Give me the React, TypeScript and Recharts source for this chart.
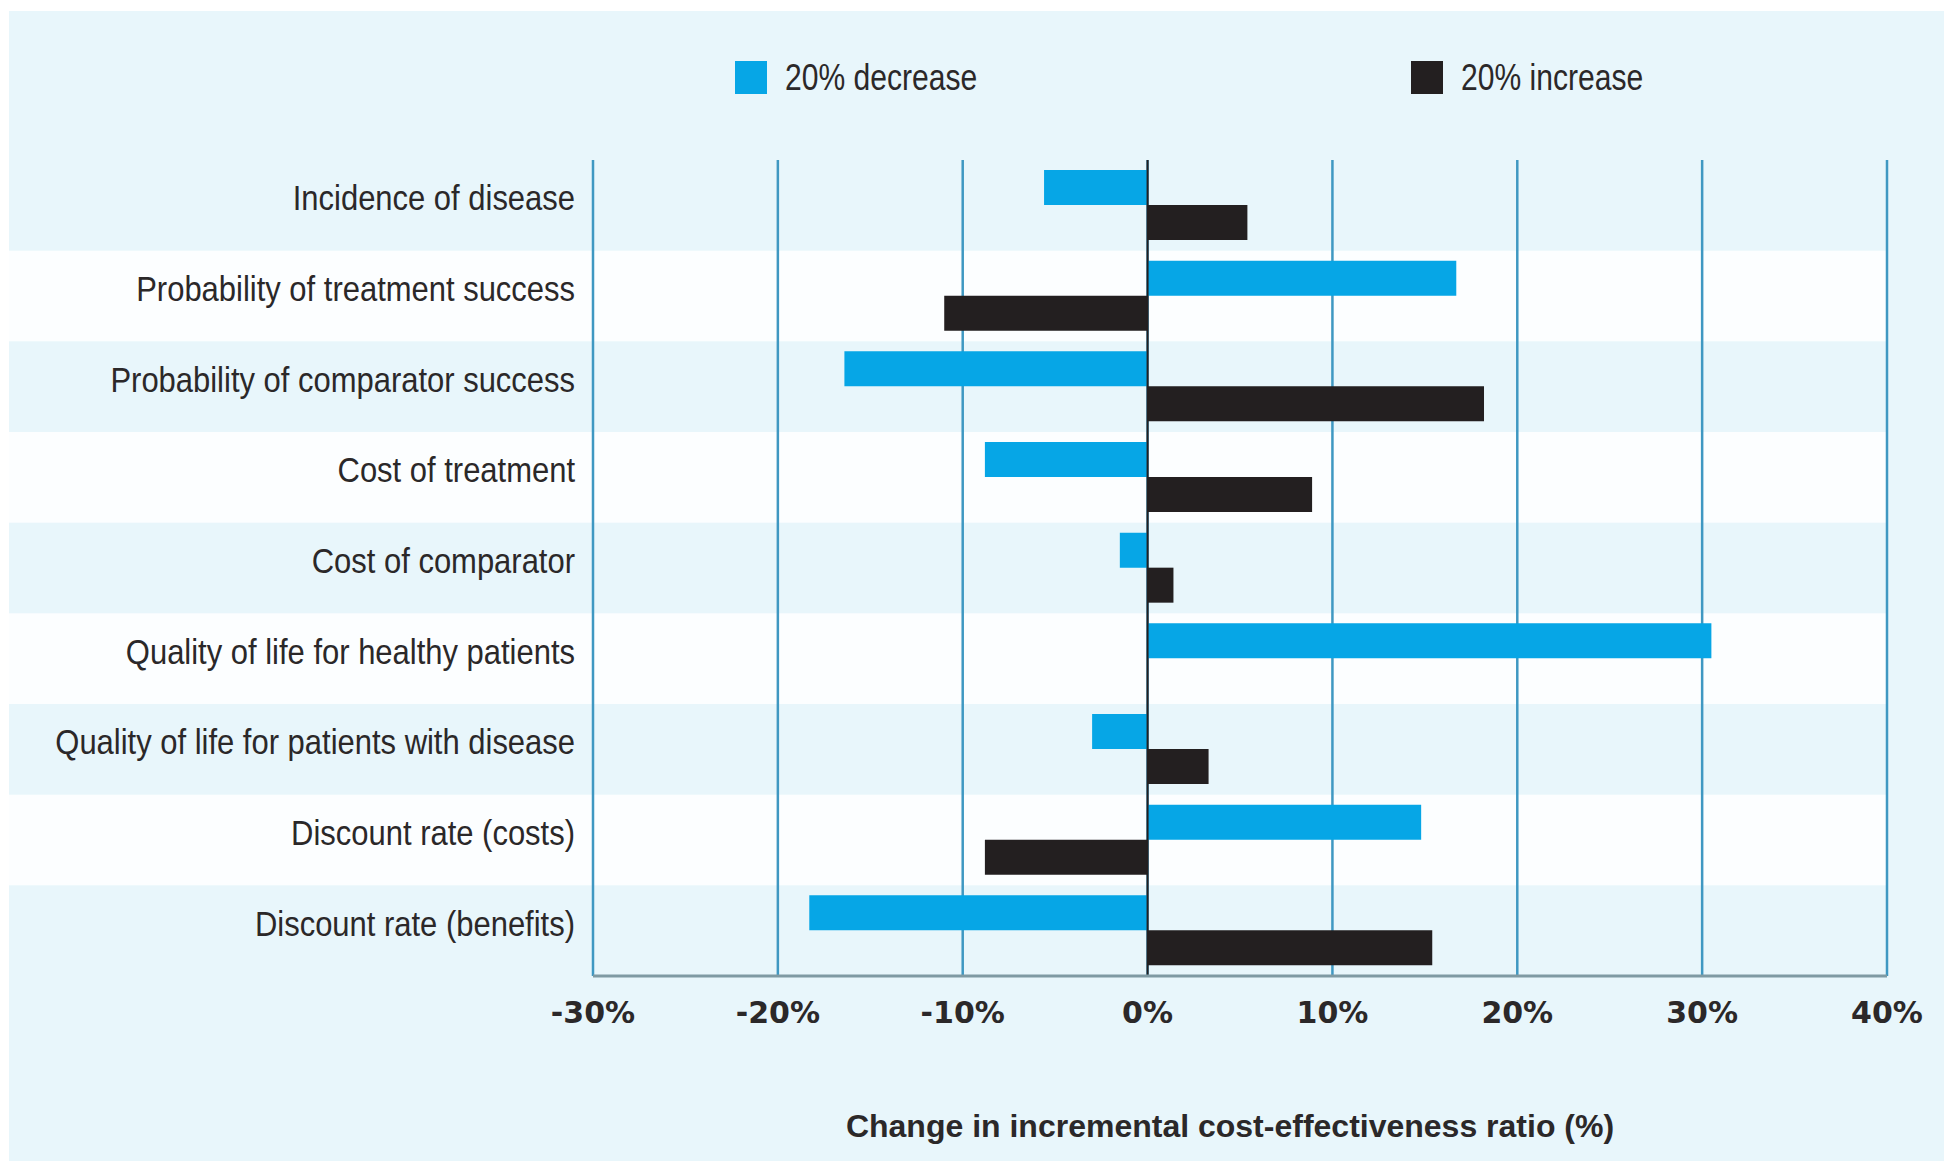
import { BarChart, Bar, XAxis, YAxis, CartesianGrid, ReferenceArea, ReferenceLine, Legend } from "recharts";

const categories = [
  "Incidence of disease",
  "Probability of treatment success",
  "Probability of comparator success",
  "Cost of treatment",
  "Cost of comparator",
  "Quality of life for healthy patients",
  "Quality of life for patients with disease",
  "Discount rate (costs)",
  "Discount rate (benefits)",
];
const decrease = [-5.6, 16.7, -16.4, -8.8, -1.5, 30.5, -3.0, 14.8, -18.3];
const increase = [5.4, -11.0, 18.2, 8.9, 1.4, 0, 3.3, -8.8, 15.4];
const xTicks = [-30, -20, -10, 0, 10, 20, 30, 40];

const data = categories.map((name, i) => ({ name, decrease: decrease[i], increase: increase[i] }));

const SANS = "'Liberation Sans', Arial, sans-serif";
const TEXT = "#2b2829";
const BLUE = "#06a6e6";
const BLACK = "#231f20";
const BAND_LEFT = 9;
const LEGEND_LEFT = [735, 1411];

const WhiteBand = (p: any) => (
  <rect x={BAND_LEFT} y={p.y} width={p.x + p.width - BAND_LEFT} height={p.height} fill="#fcfeff" />
);

// category labels are set in a condensed face: squeeze Liberation Sans horizontally
const CategoryTick = (p: any) => (
  <g transform={`translate(${p.x},${p.y})`}>
    <text transform="scale(0.885,1)" textAnchor="end" dy={5} fontFamily={SANS} fontSize={35} fill={TEXT}>
      {p.payload.value}
    </text>
  </g>
);

const renderLegend = (props: any) => {
  const items = props.payload || [];
  return (
    <div style={{ position: "relative", width: 1944, height: 36 }}>
      {items.map((entry: any, i: number) => (
        <div
          key={entry.value}
          style={{ position: "absolute", left: LEGEND_LEFT[i], top: 0, display: "flex", alignItems: "center", height: 33 }}
        >
          <span style={{ display: "inline-block", width: 32, height: 33, background: entry.color, marginRight: 18 }} />
          <span
            style={{
              fontFamily: SANS,
              fontSize: 36,
              lineHeight: "36px",
              color: TEXT,
              whiteSpace: "nowrap",
              display: "inline-block",
              transform: "scaleX(0.835)",
              transformOrigin: "left center",
            }}
          >
            {entry.value}
          </span>
        </div>
      ))}
    </div>
  );
};

export default function App() {
  return (
    <div style={{ position: "absolute", left: 0, top: 0, width: 1944, height: 1161, background: "#ffffff" }}>
      <div style={{ position: "absolute", left: BAND_LEFT, top: 11, right: 0, bottom: 0, background: "#e8f6fb" }} />
      <div style={{ position: "absolute", left: 0, top: 0 }}>
        <BarChart
          width={1944}
          height={1161}
          data={data}
          layout="vertical"
          barSize={35}
          barGap={0}
          margin={{ top: 160, right: 57, bottom: 55, left: 0 }}
        >
          {categories
            .filter((_, i) => i % 2 === 1)
            .map((c) => (
              <ReferenceArea key={c} y1={c} y2={c} shape={WhiteBand} zIndex={-200} />
            ))}
          <CartesianGrid horizontal={false} stroke="#3f98c2" strokeWidth={2.5} />
          <XAxis
            type="number"
            domain={[-30, 40]}
            ticks={xTicks}
            tickFormatter={(v) => `${v}%`}
            tick={{ fontSize: 30, fontWeight: "bold", fill: TEXT, fontFamily: "'DejaVu Sans', sans-serif" }}
            tickLine={false}
            tickSize={0}
            tickMargin={26}
            axisLine={{ stroke: "#7f9aa3", strokeWidth: 3 }}
            height={130}
            label={{
              value: "Change in incremental cost-effectiveness ratio (%)",
              position: "bottom",
              offset: 8,
              dx: -10,
              style: { fontFamily: SANS, fontSize: 32, fontWeight: "bold", fill: TEXT },
            }}
          />
          <YAxis
            type="category"
            dataKey="name"
            width={593}
            interval={0}
            axisLine={false}
            tickLine={false}
            tickSize={0}
            tickMargin={18}
            tick={CategoryTick}
          />
          <Legend
            layout="horizontal"
            verticalAlign="middle"
            align="center"
            content={renderLegend}
            wrapperStyle={{ top: 61, left: 0, width: 1944 }}
          />
          <Bar dataKey="decrease" name="20% decrease" fill={BLUE} isAnimationActive={false} />
          <Bar dataKey="increase" name="20% increase" fill={BLACK} isAnimationActive={false} />
          <ReferenceLine x={0} stroke={BLACK} strokeWidth={2} />
        </BarChart>
      </div>
    </div>
  );
}
